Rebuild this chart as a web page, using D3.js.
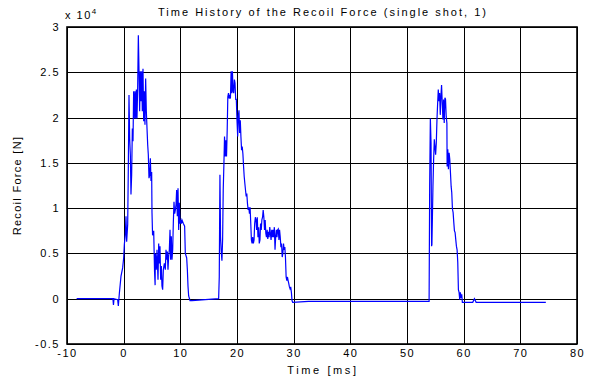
<!doctype html>
<html lang="en">
<head>
<meta charset="utf-8">
<title>Time History of the Recoil Force</title>
<script src="https://cdn.jsdelivr.net/npm/d3@7"></script>
<style>
  body { margin: 0; background: #fff; }
  text { font-family: "Liberation Sans", Arial, sans-serif; fill: #000; }
</style>
</head>
<body>
<script>
// time [ms]
var timeMs = [-8.3, -1.9, -1.8, -1.7, -1.06, -0.94, -0.76, -0.47, -0.18, 0, 0.12, 0.29, 0.41, 0.53, 0.71, 0.82, 0.94, 1.06, 1.18, 1.29,
  1.41, 1.53, 1.65, 1.76, 1.88, 2.0, 2.12, 2.24, 2.35, 2.47, 2.59, 2.71, 2.82, 2.94, 3.06, 3.18, 3.29, 3.41, 3.53, 3.65,
  3.76, 3.88, 4.0, 4.12, 4.24, 4.35, 4.47, 4.59, 4.71, 4.82, 4.94, 5.0, 5.1, 5.3, 5.45, 5.55,
  5.59, 5.76, 5.88, 6.06, 6.18, 6.29, 6.41, 6.53, 6.65, 6.76, 6.88, 7.0, 7.18, 7.35, 7.47, 7.59, 7.71, 7.82, 7.94,
  8.06, 8.18, 8.29, 8.41, 8.53, 8.65, 8.76, 8.88, 9.0, 9.12, 9.24, 9.35, 9.47, 9.59, 9.71, 9.82, 9.94, 10.06, 10.18,
  10.29, 10.53, 10.76, 10.88, 11.12, 11.24, 11.35, 11.47, 11.71, 12.06, 14.4, 16.76,
  16.87, 16.99, 17.1, 17.2, 17.34, 17.46, 17.57, 17.69, 17.8, 17.92, 18.03, 18.15, 18.27, 18.38, 18.5, 18.61, 18.73,
  18.84, 18.96, 19.08, 19.19, 19.31, 19.42, 19.54, 19.65, 19.77, 19.88, 20.0, 20.12, 20.23, 20.35, 20.46, 20.58, 20.69,
  20.81, 20.92, 21.04, 21.16, 21.27, 21.39, 21.5, 21.62, 21.73, 21.85, 21.97, 22.08, 22.2, 22.31, 22.43, 22.54, 22.66,
  22.77, 22.89, 23.01, 23.12, 23.24, 23.35, 23.47, 23.58, 23.7, 23.82, 23.93, 24.05, 24.16, 24.28, 24.39, 24.51, 24.62,
  24.74, 24.86, 24.97, 25.09, 25.2, 25.32, 25.43, 25.55, 25.66, 25.78, 25.9, 26.01, 26.13, 26.24, 26.36, 26.47, 26.59,
  26.71, 26.82, 26.94, 27.05, 27.17, 27.28, 27.4, 27.51, 27.63, 27.75, 27.86, 27.98, 28.09, 28.21, 28.32, 28.44, 28.55,
  28.67, 28.79, 28.9, 29.02, 29.13, 29.25, 29.36, 29.48, 29.6, 29.71, 29.83, 32.6, 53.9,
  54.0, 54.12, 54.24, 54.34, 54.4, 54.58, 54.7, 54.82, 54.93, 55.05, 55.17, 55.29, 55.41, 55.52, 55.64, 55.76, 55.87,
  55.99, 56.1, 56.22, 56.34, 56.45, 56.57, 56.69, 56.8, 56.92, 57.04, 57.08, 57.2, 57.31, 57.43, 57.55, 57.67, 57.79,
  57.9, 58.02, 58.14, 58.26, 58.37, 58.49, 58.61, 58.72, 58.84, 58.96, 59.07, 59.19, 59.31, 59.42, 59.54, 59.66, 59.77,
  61.6, 61.9, 62.2, 63.0, 74.5];

// recoil force [x 10^4 N]
var forceE4 = [0.0, 0.0, -0.07, 0.0, -0.01, -0.08, 0.06, 0.25, 0.34, 0.45, 0.6, 0.71, 0.91, 0.63, 0.82, 1.44, 2.25, 1.77, 1.59, 1.15,
  1.37, 1.88, 1.74, 2.29, 1.99, 2.29, 1.99, 2.31, 1.99, 2.32, 2.91, 2.51, 2.07, 2.51, 2.18, 2.51, 2.07, 2.54, 1.96, 2.29,
  1.92, 2.43, 2.07, 1.88, 1.7, 1.59, 1.33, 1.37, 1.55, 1.3, 1.4, 0.95, 0.7, 0.75, 0.3, 0.15,
  0.5, 0.32, 0.54, 0.21, 0.61, 0.39, 0.58, 0.21, 0.36, 0.14, 0.1, 0.32, 0.39, 0.32, 0.54, 0.43, 0.52, 0.32, 0.47,
  0.54, 0.76, 0.43, 0.69, 0.43, 0.54, 0.83, 1.07, 0.94, 0.98, 1.04, 1.2, 0.91, 1.22, 0.76, 1.06, 0.83, 0.87, 0.83,
  0.87, 0.83, 0.8, 0.5, 0.45, 0.32, 0.14, 0.03, -0.02, -0.02, -0.01, 0.0,
  0.24, 1.37, 0.68, 0.54, 0.42, 0.65, 1.2, 1.49, 1.79, 1.57, 1.75, 1.57, 1.86, 2.23, 2.27, 2.21, 2.25,
  2.21, 2.51, 2.27, 2.51, 2.29, 2.27, 2.42, 2.38, 2.2, 2.2, 1.97, 1.79, 2.01, 2.08, 1.83, 1.97, 1.79,
  1.64, 1.68, 1.6, 1.46, 1.35, 1.27, 1.2, 1.13, 1.16, 1.05, 0.98, 1.01, 0.94, 1.01, 0.83, 0.65, 0.61,
  0.68, 0.61, 0.65, 0.83, 0.9, 0.87, 0.76, 0.9, 0.68, 0.79, 0.61, 0.65, 0.83, 0.76, 0.87, 0.9, 0.98,
  0.9, 0.76, 0.87, 0.72, 0.68, 0.76, 0.66, 0.74, 0.68, 0.79, 0.72, 0.65, 0.76, 0.68, 0.76, 0.68, 0.79,
  0.54, 0.68, 0.76, 0.68, 0.76, 0.77, 0.65, 0.76, 0.68, 0.57, 0.61, 0.46, 0.5, 0.61, 0.54, 0.57, 0.46,
  0.24, 0.2, 0.24, 0.2, 0.17, 0.13, 0.11, 0.13, 0.07, -0.02, -0.04, -0.03, -0.03,
  1.24, 1.99, 1.72, 0.58, 0.6, 1.24, 1.54, 1.76, 1.68, 1.59, 1.72, 1.98, 2.16, 2.31, 2.18, 2.27, 2.03,
  2.24, 2.36, 2.16, 1.98, 2.2, 1.94, 2.22, 2.2, 2.01, 1.94, 1.46, 1.65, 1.43, 1.61, 1.54, 1.39, 1.24,
  1.17, 0.99, 0.95, 0.84, 0.75, 0.73, 0.65, 0.58, 0.54, 0.4, 0.1, 0.07, -0.01, 0.07, 0.01, 0.05, -0.04,
  -0.04, 0.0, -0.04, -0.04, -0.04];

var xTicks = [-10, 0, 10, 20, 30, 40, 50, 60, 70, 80];
var yTicks = [-0.5, 0, 0.5, 1, 1.5, 2, 2.5, 3];

var width = 597, height = 380;
var margin = {top: 27, right: 20, bottom: 36, left: 67};
var w = width - margin.left - margin.right;
var h = height - margin.top - margin.bottom;

var svg = d3.select("body").append("svg")
    .attr("width", width)
    .attr("height", height);

var g = svg.append("g")
    .attr("transform", "translate(" + margin.left + "," + margin.top + ")");

var xScale = d3.scaleLinear().domain([-10, 80]).range([0, w]);
var yScale = d3.scaleLinear().domain([-0.5, 3]).range([h, 0]);

// grid
g.selectAll(".vgrid").data(xTicks).enter().append("line")
    .attr("x1", d => Math.round(xScale(d)) + 0.5).attr("x2", d => Math.round(xScale(d)) + 0.5)
    .attr("y1", 0).attr("y2", h)
    .attr("stroke", "#000").attr("stroke-width", 1);
g.selectAll(".hgrid").data(yTicks).enter().append("line")
    .attr("y1", d => Math.round(yScale(d)) + 0.5).attr("y2", d => Math.round(yScale(d)) + 0.5)
    .attr("x1", 0).attr("x2", w)
    .attr("stroke", "#000").attr("stroke-width", 1);

var data = timeMs.map((t, i) => ({t: t, f: forceE4[i]}));

var line = d3.line()
    .x(d => xScale(d.t))
    .y(d => yScale(d.f));

g.append("path")
    .datum(data)
    .attr("fill", "none")
    .attr("stroke", "#0000ff")
    .attr("stroke-width", 1.2)
    .attr("d", line);

// frame
g.append("rect")
    .attr("x", 0).attr("y", 0).attr("width", w).attr("height", h)
    .attr("fill", "none").attr("stroke", "#000").attr("stroke-width", 1.6);

// axes
var xAxis = d3.axisBottom(xScale).tickValues(xTicks).tickSize(0).tickPadding(5)
    .tickFormat(d => String(d));
var yAxis = d3.axisLeft(yScale).tickValues(yTicks).tickSize(0).tickPadding(7)
    .tickFormat(d => String(d));

var gx = g.append("g").attr("transform", "translate(0," + h + ")").call(xAxis);
var gy = g.append("g").call(yAxis);
[gx, gy].forEach(function(a) {
    a.select(".domain").remove();
    a.selectAll("text")
     .style("font-family", "'Liberation Sans', Arial, sans-serif")
     .style("font-size", "11px")
     .style("letter-spacing", "1.5px");
});

// titles
svg.append("text")
    .attr("x", margin.left + w / 2 + 1).attr("y", 16)
    .attr("text-anchor", "middle")
    .style("font-size", "11px").style("letter-spacing", "2px")
    .text("Time History of the Recoil Force (single shot, 1)");

svg.append("text")
    .attr("x", margin.left + w / 2 + 1).attr("y", 374)
    .attr("text-anchor", "middle")
    .style("font-size", "11px").style("letter-spacing", "2.6px")
    .text("Time [ms]");

svg.append("text")
    .attr("transform", "translate(21," + (margin.top + h / 2) + ") rotate(-90)")
    .attr("text-anchor", "middle")
    .style("font-size", "11px").style("letter-spacing", "1.3px")
    .text("Recoil Force [N]");

var mult = svg.append("text")
    .attr("x", 65).attr("y", 19)
    .style("font-size", "11px").style("letter-spacing", "1.5px");
mult.append("tspan").text("x 10");
mult.append("tspan").attr("dy", -5).style("font-size", "8px").text("4");
</script>
</body>
</html>
